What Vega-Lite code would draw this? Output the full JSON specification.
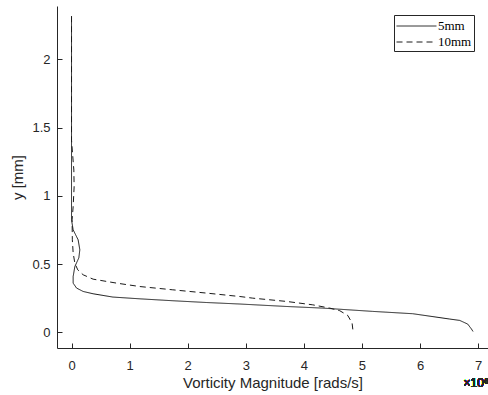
{
  "$schema": "https://vega.github.io/schema/vega-lite/v6.json",
  "autosize": "none",
  "width": 431,
  "height": 342,
  "padding": {"left": 57, "top": 6, "right": 0, "bottom": 47},
  "background": "white",
  "config": {
    "view": {"stroke": null},
    "font": "Liberation Sans",
    "axis": {
      "grid": false,
      "domainColor": "#262626",
      "tickColor": "#262626",
      "labelColor": "#262626",
      "titleColor": "#262626",
      "labelFont": "Liberation Sans",
      "titleFont": "Liberation Sans",
      "labelFontSize": 13,
      "titleFontSize": 15,
      "titleFontWeight": "normal",
      "tickSize": -5,
      "domainWidth": 1,
      "format": "~g"
    }
  },
  "data": {
    "values": [
      {"s": "5mm", "i": 0, "x": 0.0, "y": 2.315},
      {"s": "5mm", "i": 1, "x": 0.0, "y": 1.336},
      {"s": "5mm", "i": 2, "x": 0.0, "y": 0.824},
      {"s": "5mm", "i": 3, "x": 0.028, "y": 0.751},
      {"s": "5mm", "i": 4, "x": 0.114, "y": 0.678},
      {"s": "5mm", "i": 5, "x": 0.143, "y": 0.605},
      {"s": "5mm", "i": 6, "x": 0.126, "y": 0.546},
      {"s": "5mm", "i": 7, "x": 0.057, "y": 0.482},
      {"s": "5mm", "i": 8, "x": 0.028, "y": 0.409},
      {"s": "5mm", "i": 9, "x": 0.028, "y": 0.361},
      {"s": "5mm", "i": 10, "x": 0.086, "y": 0.325},
      {"s": "5mm", "i": 11, "x": 0.2, "y": 0.3},
      {"s": "5mm", "i": 12, "x": 0.372, "y": 0.283},
      {"s": "5mm", "i": 13, "x": 0.711, "y": 0.259},
      {"s": "5mm", "i": 14, "x": 1.176, "y": 0.246},
      {"s": "5mm", "i": 15, "x": 1.744, "y": 0.232},
      {"s": "5mm", "i": 16, "x": 2.324, "y": 0.219},
      {"s": "5mm", "i": 17, "x": 2.897, "y": 0.208},
      {"s": "5mm", "i": 18, "x": 3.701, "y": 0.19},
      {"s": "5mm", "i": 19, "x": 4.325, "y": 0.178},
      {"s": "5mm", "i": 20, "x": 5.186, "y": 0.154},
      {"s": "5mm", "i": 21, "x": 5.874, "y": 0.137},
      {"s": "5mm", "i": 22, "x": 6.511, "y": 0.098},
      {"s": "5mm", "i": 23, "x": 6.683, "y": 0.088},
      {"s": "5mm", "i": 24, "x": 6.821, "y": 0.061},
      {"s": "5mm", "i": 25, "x": 6.885, "y": 0.025},
      {"s": "5mm", "i": 26, "x": 6.912, "y": 0.007},
      {"s": "10mm", "i": 0, "x": 0.0, "y": 2.315},
      {"s": "10mm", "i": 1, "x": 0.0, "y": 1.408},
      {"s": "10mm", "i": 2, "x": 0.017, "y": 1.314},
      {"s": "10mm", "i": 3, "x": 0.04, "y": 1.189},
      {"s": "10mm", "i": 4, "x": 0.045, "y": 1.067},
      {"s": "10mm", "i": 5, "x": 0.028, "y": 0.921},
      {"s": "10mm", "i": 6, "x": 0.01, "y": 0.824},
      {"s": "10mm", "i": 7, "x": 0.014, "y": 0.678},
      {"s": "10mm", "i": 8, "x": 0.028, "y": 0.583},
      {"s": "10mm", "i": 9, "x": 0.057, "y": 0.507},
      {"s": "10mm", "i": 10, "x": 0.108, "y": 0.458},
      {"s": "10mm", "i": 11, "x": 0.2, "y": 0.422},
      {"s": "10mm", "i": 12, "x": 0.372, "y": 0.39},
      {"s": "10mm", "i": 13, "x": 0.775, "y": 0.361},
      {"s": "10mm", "i": 14, "x": 1.176, "y": 0.336},
      {"s": "10mm", "i": 15, "x": 1.744, "y": 0.312},
      {"s": "10mm", "i": 16, "x": 2.324, "y": 0.288},
      {"s": "10mm", "i": 17, "x": 2.897, "y": 0.263},
      {"s": "10mm", "i": 18, "x": 3.12, "y": 0.251},
      {"s": "10mm", "i": 19, "x": 3.701, "y": 0.227},
      {"s": "10mm", "i": 20, "x": 4.153, "y": 0.202},
      {"s": "10mm", "i": 21, "x": 4.446, "y": 0.178},
      {"s": "10mm", "i": 22, "x": 4.618, "y": 0.159},
      {"s": "10mm", "i": 23, "x": 4.756, "y": 0.124},
      {"s": "10mm", "i": 24, "x": 4.83, "y": 0.069},
      {"s": "10mm", "i": 25, "x": 4.847, "y": 0.007}
    ]
  },
  "layer": [
    {
      "mark": {"type": "line", "color": "#1a1a1a", "strokeWidth": 1},
      "encoding": {
        "x": {
          "field": "x", "type": "quantitative",
          "scale": {"domain": [-0.25, 7.17], "nice": false, "zero": false},
          "axis": {"values": [0,1,2,3,4,5,6,7], "title": "Vorticity Magnitude [rads/s]", "labelPadding": 16, "titlePadding": 3}
        },
        "y": {
          "field": "y", "type": "quantitative",
          "scale": {"domain": [-0.114, 2.39], "nice": false, "zero": false},
          "axis": {"values": [0, 0.5, 1, 1.5, 2], "title": "y [mm]", "labelPadding": 12, "titlePadding": 6}
        },
        "order": {"field": "i"},
        "detail": {"field": "s"},
        "strokeDash": {
          "field": "s", "type": "nominal",
          "scale": {"domain": ["5mm", "10mm"], "range": [[1, 0], [6, 4]]},
          "legend": {
            "title": null,
            "orient": "none",
            "legendX": 337,
            "legendY": 9,
            "symbolType": "M-1,0H3.7",
            "symbolSize": 289,
            "symbolStrokeColor": "#1a1a1a",
            "symbolStrokeWidth": 1,
            "labelFont": "Liberation Serif",
            "labelFontSize": 13,
            "labelColor": "#000000",
            "labelOffset": 24,
            "rowPadding": 0,
            "padding": 2,
            "strokeColor": "#262626",
            "fillColor": "white",
            "cornerRadius": 0
          }
        }
      }
    },
    {
      "mark": {"type": "text", "text": "×10⁶", "align": "left", "baseline": "middle", "fontSize": 12, "color": "#262626", "font": "Liberation Sans"},
      "encoding": {
        "x": {"datum": 6.75},
        "y": {"datum": -0.37}
      }
    }
  ]
}
